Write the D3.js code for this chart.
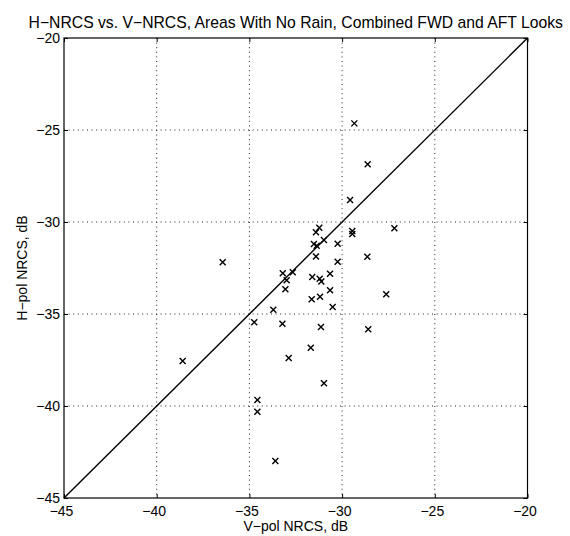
<!DOCTYPE html>
<html><head><meta charset="utf-8">
<script src="https://cdn.jsdelivr.net/npm/d3@7"></script>
<style>
body{margin:0;background:#fff;}
svg{display:block;font-family:"Liberation Sans",Arial,Helvetica,sans-serif;}
</style></head>
<body>
<svg id="chart" width="570" height="536"></svg>
<script>
const titleText = "H\u2212NRCS vs. V\u2212NRCS, Areas With No Rain, Combined FWD and AFT Looks";
const xLabel = "V\u2212pol NRCS, dB";
const yLabel = "H\u2212pol NRCS, dB";
const xTicks = [-45, -40, -35, -30, -25, -20];
const yTicks = [-45, -40, -35, -30, -25, -20];
const vPol = [-29.34,-28.62,-29.57,-29.45,-29.45,-27.18,-36.44,-31.23,-31.41,-30.98,
  -31.52,-31.37,-30.24,-31.41,-28.64,-30.24,-33.20,-32.66,-32.99,-33.06,
  -31.61,-31.21,-31.12,-30.65,-30.65,-27.62,-31.64,-31.19,-30.51,-33.71,
  -34.74,-33.22,-31.14,-28.59,-38.60,-31.69,-32.88,-30.98,-34.57,-34.57,-33.60];
const hPol = [-24.64,-26.86,-28.80,-30.49,-30.65,-30.34,-32.19,-30.31,-30.56,-30.98,
  -31.20,-31.29,-31.18,-31.87,-31.89,-32.16,-32.79,-32.73,-33.17,-33.66,
  -32.99,-33.08,-33.23,-32.81,-33.71,-33.93,-34.20,-34.06,-34.62,-34.77,
  -35.45,-35.53,-35.71,-35.83,-37.55,-36.83,-37.39,-38.77,-39.67,-40.31,-42.99];
const refLine = [[-45,-45],[-20,-20]];

const svg = d3.select("#chart");
const L = 64, R = 527.5, T = 38, B = 498;
const x = d3.scaleLinear().domain([-45,-20]).range([L,R]);
const y = d3.scaleLinear().domain([-45,-20]).range([B,T]);
const fmt = d => d < 0 ? "\u2212" + Math.abs(d) : String(d);

// grid
const g = svg.append("g");
g.selectAll("line.gx").data(xTicks.slice(1,-1)).enter().append("line")
  .attr("x1", d=>x(d)).attr("x2", d=>x(d)).attr("y1", T).attr("y2", B)
  .attr("stroke","#222").attr("stroke-width",1).attr("stroke-dasharray","1,3.6");
g.selectAll("line.gy").data(yTicks.slice(1,-1)).enter().append("line")
  .attr("y1", d=>y(d)).attr("y2", d=>y(d)).attr("x1", L).attr("x2", R)
  .attr("stroke","#222").attr("stroke-width",1).attr("stroke-dasharray","1,3.6");

// axes
const xa = svg.append("g").attr("transform",`translate(0,${B})`)
  .call(d3.axisBottom(x).tickValues(xTicks).tickFormat(fmt).tickSizeInner(-4).tickSizeOuter(0).tickPadding(8));
const xt = svg.append("g").attr("transform",`translate(0,${T})`)
  .call(d3.axisTop(x).tickValues(xTicks).tickFormat("").tickSizeInner(-4).tickSizeOuter(0));
const ya = svg.append("g").attr("transform",`translate(${L},0)`)
  .call(d3.axisLeft(y).tickValues(yTicks).tickFormat(fmt).tickSizeInner(-4).tickSizeOuter(0).tickPadding(4));
const yr = svg.append("g").attr("transform",`translate(${R},0)`)
  .call(d3.axisRight(y).tickValues(yTicks).tickFormat("").tickSizeInner(-4).tickSizeOuter(0));
[xa,xt,ya,yr].forEach(a=>{
  a.select(".domain").remove();
  a.selectAll("line").attr("stroke","#000");
  a.selectAll("text").attr("font-size",14).attr("fill","#000")
   .attr("font-family","'Liberation Sans',Arial,sans-serif");
});
xa.selectAll("text").attr("dx",-3);
svg.append("rect").attr("x",L).attr("y",T).attr("width",R-L).attr("height",B-T)
  .attr("fill","none").attr("stroke","#000").attr("stroke-width",1.2);

// reference line
svg.append("path").datum(refLine)
  .attr("d", d3.line().x(d=>x(d[0])).y(d=>y(d[1])))
  .attr("stroke","#000").attr("stroke-width",1.4).attr("fill","none");

// markers
const s = 3;
const pts = vPol.map((v,i)=>[v,hPol[i]]);
svg.append("g").selectAll("path").data(pts).enter().append("path")
  .attr("d", d=>{const px=x(d[0]), py=y(d[1]);
    return `M${px-s},${py-s}L${px+s},${py+s}M${px-s},${py+s}L${px+s},${py-s}`;})
  .attr("stroke","#000").attr("stroke-width",1.4).attr("fill","none");

// labels
const title = svg.append("text").attr("x",(L+R)/2).attr("y",28).attr("text-anchor","middle")
  .attr("font-size",15).text(titleText);
const tw = title.node().getComputedTextLength();
title.attr("font-size", Math.min(17, 15 * 535 / tw));
svg.append("text").attr("x",(L+R)/2).attr("y",531).attr("text-anchor","middle")
  .attr("font-size",14).text(xLabel);
svg.append("text").attr("transform",`translate(27,${(T+B)/2}) rotate(-90)`)
  .attr("text-anchor","middle").attr("font-size",14).text(yLabel);
</script>
</body></html>
